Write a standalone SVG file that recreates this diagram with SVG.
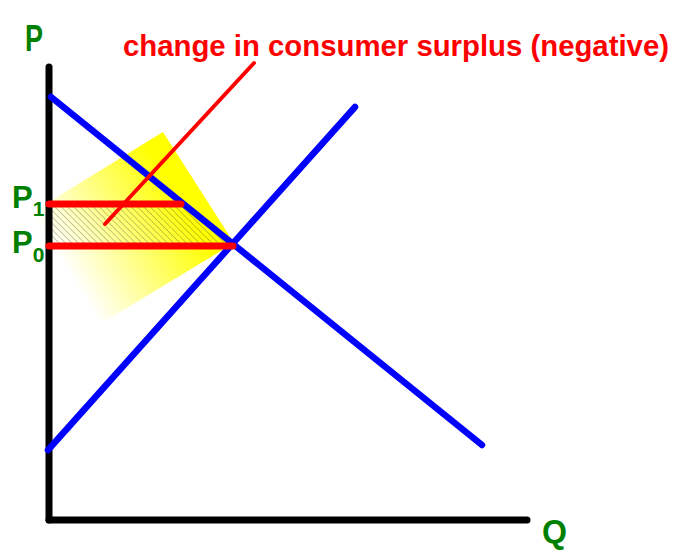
<svg xmlns="http://www.w3.org/2000/svg" width="678" height="550" viewBox="0 0 678 550">
<defs>
<linearGradient id="yg" gradientUnits="userSpaceOnUse" x1="200" y1="186" x2="66" y2="268">
<stop offset="0" stop-color="#FFFF00"/>
<stop offset="0.15" stop-color="#FFFF00"/>
<stop offset="1" stop-color="#FFFFFF"/>
</linearGradient>
<pattern id="hatch" patternUnits="userSpaceOnUse" width="4.5" height="4.5" patternTransform="rotate(-45)">
<line x1="0" y1="0" x2="0" y2="4.5" stroke="#333" stroke-width="0.7" stroke-opacity="0.8"/>
</pattern>
<style>
.ax{stroke:#000;stroke-width:7;stroke-linecap:round;fill:none}
.bl{stroke:#0000FF;stroke-width:6.5;stroke-linecap:round;fill:none}
.rd{stroke:#FF0000;stroke-width:7;stroke-linecap:round;fill:none}
.gl{font-family:"Liberation Sans",Arial,sans-serif;font-weight:bold;fill:#008000}
.tt{font-family:"Liberation Sans",Arial,sans-serif;font-weight:bold;fill:#FF0000;font-size:29.5px}
</style>
</defs>
<rect width="678" height="550" fill="#fff"/>
<g id="highlight">
<polygon points="163,132 234,243 102,323 31,213" fill="url(#yg)"/>
<polygon points="49,204 181,204 233,246 49,246" fill="url(#hatch)"/>
</g>
<g id="axes">
<line class="ax" x1="49" y1="67" x2="49" y2="520"/>
<line class="ax" x1="49" y1="520" x2="527" y2="520"/>
</g>
<g id="connectors">
<line id="demand" class="bl" x1="51" y1="97" x2="482" y2="445"/>
<line id="supply" class="bl" x1="48" y1="450" x2="355" y2="107"/>
<line id="p1line" class="rd" x1="49" y1="204" x2="181" y2="204"/>
<line id="p0line" class="rd" x1="49" y1="246" x2="233" y2="246"/>
<line id="pointer" stroke="#FF0000" stroke-width="4" stroke-linecap="round" x1="254" y1="63" x2="105" y2="224"/>
</g>
<g id="labels">
<text class="gl" x="25" y="51" font-size="37" textLength="18" lengthAdjust="spacingAndGlyphs">P</text>
<text class="gl" x="12" y="208" font-size="31">P<tspan font-size="21" dy="8">1</tspan></text>
<text class="gl" x="12" y="253" font-size="31">P<tspan font-size="21" dy="9">0</tspan></text>
<text class="gl" x="542" y="543" font-size="34" textLength="25" lengthAdjust="spacingAndGlyphs">Q</text>
<text class="tt" x="123" y="56" textLength="546" lengthAdjust="spacingAndGlyphs">change in consumer surplus (negative)</text>
</g>
</svg>
